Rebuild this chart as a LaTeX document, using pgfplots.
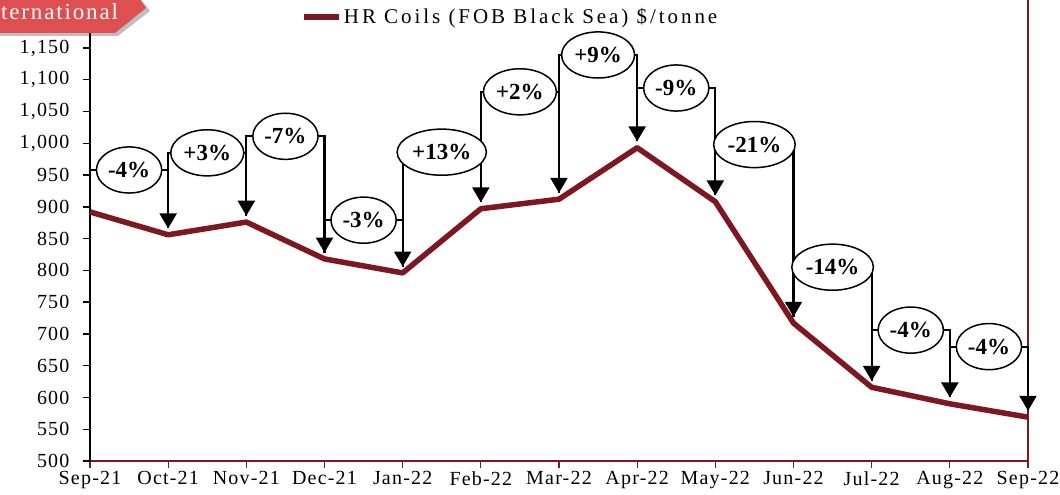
\documentclass[border=0pt]{standalone}
\usepackage{pgfplots}
\pgfplotsset{compat=1.18}
\usepackage{fontspec}
\setmainfont{Liberation Serif}
\usetikzlibrary{arrows.meta,shapes.geometric}
\definecolor{maroon}{HTML}{7E1820}
\definecolor{banner}{HTML}{DD4F50}
\begin{document}
\begin{tikzpicture}
\path[use as bounding box] (0pt,0pt) rectangle (1060pt,495pt);
\clip (0pt,0pt) rectangle (1060pt,495pt);
\begin{axis}[
  at={(90pt,34pt)}, anchor=south west, scale only axis,
  width=938pt, height=461pt,
  xmin=0, xmax=12, ymin=500, ymax=1225.5, clip=false,
  axis x line*=bottom, axis y line*=left,
  x axis line style={draw=maroon, line width=1.6pt},
  y axis line style={draw=black, line width=1.6pt},
  xtick={0,...,12},
  xticklabels={Sep-21,Oct-21,Nov-21,Dec-21,Jan-22,Feb-22,Mar-22,Apr-22,May-22,Jun-22,Jul-22,Aug-22,Sep-22},
  ytick={500,550,...,1150},
  tick align=outside, major tick length=7pt,
  xtick style={draw=maroon, line width=1.2pt},
  ytick style={draw=black, line width=1.4pt},
  tick label style={font=\fontsize{20}{20}\selectfont\addfontfeature{LetterSpace=6}},
  yticklabel style={xshift=-10pt},
  /pgf/number format/1000 sep={,},
  /pgf/number format/assume math mode=true,
  legend style={at={(0.222,0.963)}, anchor=west, draw=none, fill=none,
    font=\fontsize{21}{21}\selectfont\addfontfeature{LetterSpace=14}},
  legend image code/.code={\draw[maroon, line width=5.5pt] (0pt,0pt) -- (35pt,0pt);},
  br/.style={black, line width=2.2pt, no markers, forget plot, -{Triangle[width=17pt,length=15pt]}},
]
\draw[maroon, line width=1.6pt] (rel axis cs:1,0) -- (rel axis cs:1,1);
\addplot[maroon, line width=5.5pt, line join=round] coordinates {
 (0,892) (1,856) (2,876) (3,818) (4,796) (5,897) (6,912) (7,993) (8,908) (9,717) (10,616) (11,590) (12,569)};
\addlegendentry{HR Coils (FOB Black Sea) \$/tonne}
\addplot[br] coordinates {(0,902) (0,958) (1,958) (1,866)};
\addplot[br] coordinates {(1,866) (1,985) (2,985) (2,886)};
\addplot[br] coordinates {(2,886) (2,1011) (3,1011) (3,828)};
\addplot[br] coordinates {(3,828) (3,879) (4,879) (4,806)};
\addplot[br] coordinates {(4,806) (4,986) (5,986) (5,907)};
\addplot[br] coordinates {(5,907) (5,1081) (6,1081) (6,922)};
\addplot[br] coordinates {(6,922) (6,1139) (7,1139) (7,1003)};
\addplot[br] coordinates {(7,1003) (7,1087) (8,1087) (8,918)};
\addplot[br] coordinates {(8,918) (8,998) (9,998) (9,727)};
\addplot[br] coordinates {(9,727) (9,805) (10,805) (10,626)};
\addplot[br] coordinates {(10,626) (10,706) (11,706) (11,600)};
\addplot[br] coordinates {(11,600) (11,680) (12,680) (12,579)};
\tikzset{lab/.style={ellipse, draw=black, line width=1.5pt, fill=white, inner xsep=2pt, inner ysep=8.5pt, font=\fontsize{23}{23}\selectfont\bfseries}}
\node[lab] at (axis cs:0.5,958) {-4\%};
\node[lab] at (axis cs:1.5,985) {+3\%};
\node[lab] at (axis cs:2.5,1011) {-7\%};
\node[lab] at (axis cs:3.5,879) {-3\%};
\node[lab] at (axis cs:4.5,986) {+13\%};
\node[lab] at (axis cs:5.5,1081) {+2\%};
\node[lab] at (axis cs:6.5,1139) {+9\%};
\node[lab] at (axis cs:7.5,1087) {-9\%};
\node[lab] at (axis cs:8.5,998) {-21\%};
\node[lab] at (axis cs:9.5,805) {-14\%};
\node[lab] at (axis cs:10.5,706) {-4\%};
\node[lab] at (axis cs:11.5,680) {-4\%};
\end{axis}
% banner
\fill[black,opacity=0.25] (-20pt,497pt) -- (140pt,497pt) -- (150pt,484pt) -- (118pt,459pt) -- (-20pt,459pt) -- cycle;
\fill[banner] (-20pt,500pt) -- (137pt,500pt) -- (146pt,487pt) -- (115pt,462pt) -- (-20pt,462pt) -- cycle;
\node[anchor=base west, text=white, inner sep=0pt, font=\fontsize{23}{23}\selectfont\addfontfeature{LetterSpace=8}] at (1pt,475pt) {ternational};
\end{tikzpicture}
\end{document}
